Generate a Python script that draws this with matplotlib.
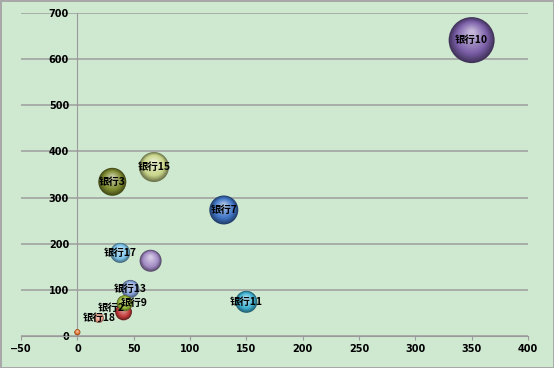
import matplotlib.pyplot as plt
import matplotlib.transforms as mtransforms
import numpy as np

plt.rcParams['font.family'] = ['Noto Sans CJK SC', 'DejaVu Sans']

# bubble data (x, y, bubble size)
names = ['银行10', '银行15', '银行3', '银行7', '银行17', '', '银行13', '银行11', '银行9', '银行2', '银行18', '']
x_vals = [350, 68, 31, 130, 38, 65, 47, 150, 42, 41, 19, 0]
y_vals = [641, 366, 334, 273, 180, 163, 102, 74, 71, 52, 39, 8]
sizes = [529, 225, 196, 210, 100, 121, 81, 121, 64, 70, 25, 9]
colors = ['#7a5ea8', '#c9d68a', '#7d8a2e', '#3f74c4', '#7cc4ea', '#a28ac4',
          '#8aa6dc', '#3fb2d2', '#9cbc3c', '#c23a3a', '#ec9e86', '#e0702c']

# label nudges in points (layout only)
label_dx = {'银行9': 7, '银行2': -9}
label_dy = {'银行2': 3}

bg = '#cfe8d0'
fig = plt.figure(figsize=(5.54, 3.68), dpi=100, facecolor=bg,
                 edgecolor='#a8a8a8', linewidth=2)
ax = fig.add_axes([0.038, 0.087, 0.915, 0.878])
ax.set_facecolor(bg)

ax.set_xlim(-50, 400)
ax.set_ylim(0, 700)
ax.set_xticks(np.arange(-50, 401, 50))
ax.set_yticks(np.arange(0, 701, 100))
ax.yaxis.grid(True, color='#a4a8a4', lw=1.3)
ax.set_axisbelow(True)

for s in ['top', 'right']:
    ax.spines[s].set_visible(False)
ax.spines['left'].set_position(('data', 0))
ax.spines['left'].set_color('#9a9a9a')
ax.spines['bottom'].set_color('#9a9a9a')
ax.tick_params(axis='y', length=0, pad=6)
ax.tick_params(axis='x', length=3, color='#9a9a9a', pad=3)
for lab in ax.get_xticklabels() + ax.get_yticklabels():
    lab.set_fontsize(7)
    lab.set_fontweight('bold')
    lab.set_fontfamily('DejaVu Sans')


def mix(c1, c2, t):
    a = np.array(plt.matplotlib.colors.to_rgb(c1))
    b = np.array(plt.matplotlib.colors.to_rgb(c2))
    return tuple(a * (1 - t) + b * t)


# px radius -> scale: size 529 -> radius 23 px
k = 23.0 / np.sqrt(529)
order = np.argsort(sizes)[::-1]
nlay = 14
for i in order:
    r_px = k * np.sqrt(sizes[i])
    r_pt = r_px * 0.72
    base = colors[i]
    dark = mix(base, 'black', 0.45)
    for j in range(nlay):
        t = j / nlay
        rr = r_pt * (1 - 0.92 * t)
        if t < 0.3:
            c = mix(dark, base, t / 0.3)
        else:
            c = mix(base, 'white', (t - 0.3) / 0.7 * 0.6)
        dy = r_pt * 0.35 * t / 72.0
        tr = ax.transData + mtransforms.ScaledTranslation(0, dy, fig.dpi_scale_trans)
        ax.scatter([x_vals[i]], [y_vals[i]], s=(2 * rr) ** 2, color=c,
                   edgecolors='none', transform=tr, zorder=3, clip_on=False)

for i in range(len(names)):
    if names[i]:
        ax.annotate(names[i], (x_vals[i], y_vals[i]),
                    xytext=(label_dx.get(names[i], 0), label_dy.get(names[i], 0)),
                    textcoords='offset points', fontsize=7.5, fontweight='black',
                    ha='center', va='center', color='black', zorder=5)

fig.savefig('out.png', dpi=100, facecolor=bg, edgecolor=fig.get_edgecolor())
